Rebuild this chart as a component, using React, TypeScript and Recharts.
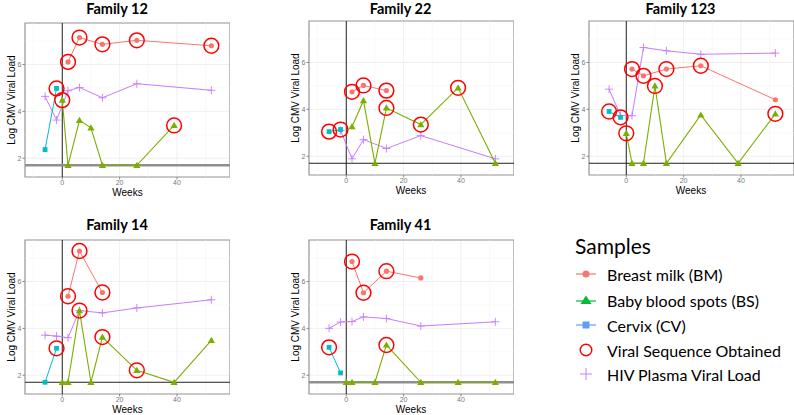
import React from "react";
import { ScatterChart, Scatter, XAxis, YAxis, CartesianGrid, ReferenceLine, ReferenceArea } from "recharts";

const weekTicks = [0, 20, 40];
const minorWeeks = [-10, 10, 30, 50];
const loadTicks = [2, 4, 6];
const minorLoads = [3, 5, 7];
const detectionLimit = 1.7;
const weekDomain = [-13, 58.5];
const loadDomain = [1.2, 7.77];

// [week, log CMV viral load]
const f12Milk = [[2, 6.11], [6, 7.15], [14, 6.86], [26, 7.03], [52, 6.8]];
const f12Blood = [[0, 4.48], [2, 1.7], [6, 3.62], [10, 3.3], [14, 1.7], [26, 1.7], [39, 3.4]];
const f12Cervix = [[-6, 2.37], [-2, 4.98]];
const f12Hiv = [[-6, 4.64], [-2, 3.63], [2, 4.88], [6, 5.02], [14, 4.58], [26, 5.18], [52, 4.9]];
const f12Seq = [[2, 6.11], [6, 7.15], [14, 6.86], [26, 7.03], [52, 6.8], [-2, 4.98], [0, 4.48], [39, 3.4]];

const f22Milk = [[2, 4.75], [6, 5.02], [14, 4.8]];
const f22Blood = [[2, 3.26], [6, 4.37], [10, 1.7], [14, 4.06], [26, 3.35], [39, 4.92], [52, 1.7]];
const f22Cervix = [[-6, 3.05], [-2, 3.14]];
const f22Hiv = [[-2, 3.1], [2, 1.89], [6, 2.71], [14, 2.33], [26, 2.88], [52, 1.89]];
const f22Seq = [[-6, 3.05], [-2, 3.14], [2, 4.75], [6, 5.02], [14, 4.8], [14, 4.06], [26, 3.35], [39, 4.92]];

const f123Milk = [[2, 5.72], [6, 5.43], [14, 5.72], [26, 5.86], [52, 4.41]];
const f123Blood = [[0, 2.98], [2, 1.7], [6, 1.7], [10, 5.0], [14, 1.7], [26, 3.76], [39, 1.7], [52, 3.81]];
const f123Cervix = [[-6, 3.91], [-2, 3.66]];
const f123Hiv = [[-6, 4.86], [-2, 3.74], [2, 3.73], [6, 6.64], [14, 6.5], [26, 6.35], [52, 6.4]];
const f123Seq = [[-6, 3.91], [-2, 3.66], [2, 5.72], [6, 5.43], [14, 5.72], [26, 5.86], [0, 2.98], [10, 5.0], [52, 3.81]];

const f14Milk = [[2, 5.37], [6, 7.3], [14, 5.53]];
const f14Blood = [[0, 1.7], [2, 1.7], [6, 4.76], [10, 1.7], [14, 3.63], [26, 2.21], [39, 1.7], [52, 3.49]];
const f14Cervix = [[-6, 1.7], [-2, 3.15]];
const f14Hiv = [[-6, 3.71], [-2, 3.67], [2, 3.6], [6, 4.76], [14, 4.66], [26, 4.87], [52, 5.22]];
const f14Seq = [[2, 5.37], [6, 7.3], [14, 5.53], [-2, 3.15], [6, 4.76], [14, 3.63], [26, 2.21]];

const f41Milk = [[2, 6.85], [6, 5.52], [14, 6.44], [26, 6.15]];
const f41Blood = [[0, 1.7], [2, 1.7], [10, 1.7], [14, 3.29], [26, 1.7], [39, 1.7], [52, 1.7]];
const f41Cervix = [[-6, 3.19], [-2, 2.1]];
const f41Hiv = [[-6, 4.0], [-2, 4.27], [2, 4.29], [6, 4.49], [14, 4.42], [26, 4.1], [52, 4.28]];
const f41Seq = [[2, 6.85], [6, 5.52], [14, 6.44], [-6, 3.19], [14, 3.29]];

const legendLabels = ["Breast milk (BM)", "Baby blood spots (BS)", "Cervix (CV)", "Viral Sequence Obtained", "HIV Plasma Viral Load"];

const MILK = "#F8766D";
const BLOOD = "#7CAE00";
const CERVIX = "#00BFC4";
const HIV = "#C77CFF";
const RING = "#FF0000";

const toPoints = (arr: number[][]) => arr.map(([week, load]) => ({ week, load }));

const milkDot = (p: any) => <circle cx={p.cx} cy={p.cy} r={2.6} fill={MILK} />;
const bloodDot = (p: any) => (
  <polygon points={`${p.cx},${p.cy - 3.6} ${p.cx - 3.6},${p.cy + 2.6} ${p.cx + 3.6},${p.cy + 2.6}`} fill={BLOOD} />
);
const cervixDot = (p: any) => <rect x={p.cx - 2.4} y={p.cy - 2.4} width={4.8} height={4.8} fill={CERVIX} />;
const hivDot = (p: any) => (
  <path d={`M${p.cx - 4},${p.cy}H${p.cx + 4}M${p.cx},${p.cy - 4}V${p.cy + 4}`} stroke={HIV} strokeWidth={0.9} />
);
const ringDot = (p: any) => <circle cx={p.cx} cy={p.cy} r={7.4} fill="none" stroke={RING} strokeWidth={1.5} />;

const PLOT_W = 205;
const PLOT_H = 154;

function Panel({ title, left, top, titleY, milk, blood, cervix, hiv, seq, heavy }: any) {
  const limitStroke = heavy ? "#8f8f8f" : "#222";
  const limitWidth = heavy ? 2.6 : 1;
  return (
    <>
      <div
        style={{
          position: "absolute",
          left: left + 92,
          top: titleY,
          transform: "translate(-50%, -50%)",
          fontFamily: "Lato",
          fontWeight: 700,
          fontSize: 14.5,
          lineHeight: 1,
          whiteSpace: "nowrap",
        }}
      >
        {title}
      </div>
      <div
        style={{
          position: "absolute",
          left: left - 14,
          top: top + PLOT_H / 2,
          transform: "translate(-50%, -50%) rotate(-90deg)",
          fontFamily: "Liberation Sans",
          fontSize: 10,
          whiteSpace: "nowrap",
        }}
      >
        Log CMV Viral Load
      </div>
      <div
        style={{
          position: "absolute",
          left: left + PLOT_W / 2,
          top: top + PLOT_H + 15,
          transform: "translate(-50%, -50%)",
          fontFamily: "Liberation Sans",
          fontSize: 10,
        }}
      >
        Weeks
      </div>
      <div style={{ position: "absolute", left: left - 25, top: top - 25 }}>
        <ScatterChart width={25 + PLOT_W} height={25 + PLOT_H + 25} margin={{ top: 25, right: 0, bottom: 0, left: 0 }}>
          <CartesianGrid stroke="#ececec" strokeWidth={0.8} />
          {minorWeeks.map((w) => (
            <ReferenceLine key={"mx" + w} x={w} stroke="#f5f5f5" strokeWidth={0.6} />
          ))}
          {minorLoads.map((l) => (
            <ReferenceLine key={"my" + l} y={l} stroke="#f5f5f5" strokeWidth={0.6} />
          ))}
          <XAxis
            type="number"
            dataKey="week"
            domain={weekDomain}
            ticks={weekTicks}
            allowDataOverflow
            height={25}
            axisLine={false}
            tickLine={{ stroke: "#888" }}
            tickSize={2.5}
            tickMargin={1}
            tick={{ fontSize: 7, fill: "#777", fontFamily: "Liberation Sans" }}
          />
          <YAxis
            type="number"
            dataKey="load"
            domain={loadDomain}
            ticks={loadTicks}
            allowDataOverflow
            width={25}
            axisLine={false}
            tickLine={{ stroke: "#888" }}
            tickSize={2.5}
            tickMargin={1}
            tick={{ fontSize: 7, fill: "#777", fontFamily: "Liberation Sans" }}
          />
          <ReferenceArea
            x1={weekDomain[0]}
            x2={weekDomain[1]}
            y1={loadDomain[0]}
            y2={loadDomain[1]}
            fill="none"
            stroke="#999"
            strokeWidth={1.2}
          />
          <ReferenceLine x={0} stroke="#222" strokeWidth={1} />
          <ReferenceLine y={detectionLimit} stroke={limitStroke} strokeWidth={limitWidth} />
          <Scatter data={toPoints(hiv)} line={{ stroke: HIV, strokeWidth: 1 }} shape={hivDot} isAnimationActive={false} />
          <Scatter data={toPoints(cervix)} line={{ stroke: CERVIX, strokeWidth: 1 }} shape={cervixDot} isAnimationActive={false} />
          <Scatter data={toPoints(milk)} line={{ stroke: MILK, strokeWidth: 1 }} shape={milkDot} isAnimationActive={false} />
          <Scatter data={toPoints(blood)} line={{ stroke: BLOOD, strokeWidth: 1.1 }} shape={bloodDot} isAnimationActive={false} />
          <Scatter data={toPoints(seq)} shape={ringDot} isAnimationActive={false} />
        </ScatterChart>
      </div>
    </>
  );
}

function LegendIcon({ index }: { index: number }) {
  return (
    <svg width={22} height={16} style={{ position: "absolute", left: 0, top: -8 }}>
      {index === 0 && (
        <>
          <line x1={1} y1={8} x2={21} y2={8} stroke={MILK} strokeWidth={1.2} />
          <circle cx={11} cy={8} r={3.5} fill={MILK} />
        </>
      )}
      {index === 1 && (
        <>
          <line x1={1} y1={9} x2={21} y2={9} stroke="#00BA38" strokeWidth={1.2} />
          <polygon points="11,3.5 5.5,12 16.5,12" fill="#00BA38" />
        </>
      )}
      {index === 2 && (
        <>
          <line x1={1} y1={8} x2={21} y2={8} stroke="#619CFF" strokeWidth={1.2} />
          <rect x={7.5} y={4.5} width={7} height={7} fill="#619CFF" />
        </>
      )}
      {index === 3 && <circle cx={11} cy={8} r={5.8} fill="none" stroke={RING} strokeWidth={1.4} />}
      {index === 4 && (
        <path d="M5,8H17M11,2V14" stroke={HIV} strokeWidth={1} />
      )}
    </svg>
  );
}

export default function App() {
  const rowY = [274, 300, 325, 349.5, 374];
  return (
    <div
      style={{
        position: "absolute",
        left: 0,
        top: 0,
        width: 794,
        height: 415,
        overflow: "hidden",
        background: "#fff",
      }}
    >
      <Panel title="Family 12" left={25} top={23} titleY={8.5} milk={f12Milk} blood={f12Blood} cervix={f12Cervix} hiv={f12Hiv} seq={f12Seq} heavy />
      <Panel title="Family 22" left={308.5} top={21} titleY={8.5} milk={f22Milk} blood={f22Blood} cervix={f22Cervix} hiv={f22Hiv} seq={f22Seq} />
      <Panel title="Family 123" left={588.5} top={21} titleY={8.5} milk={f123Milk} blood={f123Blood} cervix={f123Cervix} hiv={f123Hiv} seq={f123Seq} />
      <Panel title="Family 14" left={25} top={239.5} titleY={224.5} milk={f14Milk} blood={f14Blood} cervix={f14Cervix} hiv={f14Hiv} seq={f14Seq} />
      <Panel title="Family 41" left={308.5} top={239.5} titleY={224.5} milk={f41Milk} blood={f41Blood} cervix={f41Cervix} hiv={f41Hiv} seq={f41Seq} heavy />
      <div
        style={{
          position: "absolute",
          left: 575,
          top: 245,
          transform: "translateY(-50%)",
          fontFamily: "Lato",
          fontSize: 21,
        }}
      >
        Samples
      </div>
      {legendLabels.map((label, i) => (
        <div key={label} style={{ position: "absolute", left: 575, top: rowY[i] }}>
          <LegendIcon index={i} />
          <div
            style={{
              position: "absolute",
              left: 32,
              top: 0,
              transform: "translateY(-50%)",
              fontFamily: "Lato",
              fontSize: 16,
              whiteSpace: "nowrap",
            }}
          >
            {label}
          </div>
        </div>
      ))}
    </div>
  );
}
